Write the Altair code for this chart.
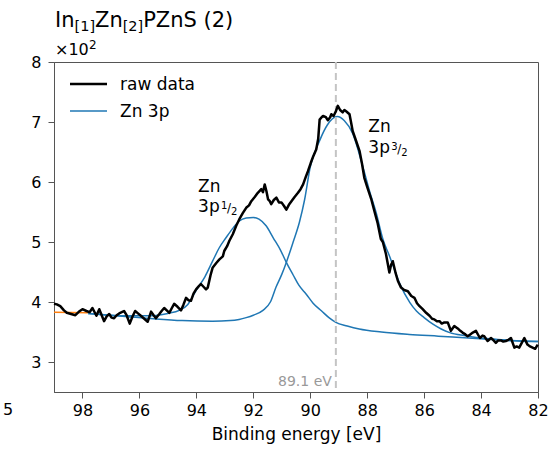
import altair as alt
import pandas as pd

# ---------------- data ----------------
raw_energy = [99.00, 98.90, 98.78, 98.65, 98.55, 98.40, 98.25, 98.12, 98.00, 97.86,
              97.75, 97.65, 97.51, 97.41, 97.24, 97.15, 97.06, 96.98, 96.89, 96.80,
              96.71, 96.62, 96.54, 96.45, 96.34, 96.25, 96.15, 96.05, 95.95, 95.83,
              95.71, 95.59, 95.50, 95.42, 95.30, 95.22, 95.13, 95.04, 94.95, 94.86,
              94.78, 94.66, 94.54, 94.45, 94.36, 94.28, 94.19, 94.10, 94.01, 93.92,
              93.84, 93.74, 93.66, 93.60, 93.50, 93.43, 93.30, 93.19, 93.07, 93.02,
              92.92, 92.84, 92.72, 92.60, 92.49, 92.37, 92.25, 92.15, 92.07, 91.95,
              91.84, 91.72, 91.66, 91.60, 91.54, 91.48, 91.42, 91.37, 91.28, 91.19,
              91.10, 91.01, 90.92, 90.84, 90.75, 90.66, 90.55, 90.43, 90.34, 90.25,
              90.16, 90.08, 89.98, 89.90, 89.79, 89.72, 89.67, 89.60, 89.55, 89.45,
              89.38, 89.30, 89.26, 89.18, 89.10, 89.03, 88.95, 88.86, 88.80, 88.74,
              88.62, 88.56, 88.51, 88.40, 88.27, 88.18, 88.10, 88.00, 87.86, 87.75,
              87.63, 87.52, 87.45, 87.34, 87.22, 87.16, 87.10, 87.00, 86.92, 86.81,
              86.70, 86.57, 86.45, 86.34, 86.25, 86.16, 86.05, 85.93, 85.81, 85.72,
              85.64, 85.55, 85.46, 85.38, 85.29, 85.17, 85.06, 84.94, 84.82, 84.73,
              84.65, 84.55, 84.47, 84.38, 84.29, 84.18, 84.10, 84.04, 83.95, 83.89,
              83.77, 83.65, 83.56, 83.48, 83.40, 83.30, 83.22, 83.13, 83.04, 82.95,
              82.83, 82.75, 82.66, 82.57, 82.48, 82.42, 82.37, 82.28, 82.19, 82.10,
              82.01]
raw_counts = [397, 396, 393, 386, 382, 380, 378, 384, 388, 385,
              383, 390, 377, 388, 368, 376, 380, 374, 373, 378,
              381, 383, 385, 378, 364, 375, 385, 381, 377, 372,
              367, 384, 378, 373, 380, 385, 390, 386, 382, 390,
              397, 392, 386, 396, 407, 403, 402, 414, 421, 426,
              430, 425, 421, 424, 445, 457, 465, 471, 476, 485,
              493, 502, 513, 527, 538, 548, 557, 561, 568, 575,
              582, 588, 583, 596, 585, 571, 568, 563, 570, 574,
              566, 566, 560, 554, 562, 568, 575, 582, 588, 596,
              608, 618, 632, 642, 654, 672, 704, 708, 710, 708,
              703, 708, 713, 710, 718, 727, 720, 716, 720, 718,
              713, 698, 685, 670, 652, 630, 607, 592, 572, 552,
              531, 505, 500, 480, 449, 462, 468, 448, 435, 424,
              420, 418, 410, 407, 398, 393, 388, 382, 377, 372,
              371, 368, 368, 364, 366, 366, 352, 360, 356, 352,
              349, 346, 343, 346, 349, 352, 345, 340, 344, 343,
              335, 340, 336, 332, 336, 336, 334, 335, 337, 340,
              324, 326, 324, 332, 340, 334, 329, 326, 324, 322,
              329]

# Zn 3p1/2 component (peak near 92.0 eV, incl. background)
fit1_energy = [97.8, 96.5, 95.6, 95.0, 94.6, 94.3, 94.0, 93.7, 93.43, 93.2,
               92.96, 92.7, 92.49, 92.25, 92.0, 91.8, 91.55, 91.3, 91.05, 90.84,
               90.6, 90.4, 90.14, 89.9, 89.6, 89.32, 89.1, 88.7, 88.28, 87.5,
               86.52, 85.5, 84.17, 83.0, 82.0]
fit1_counts = [381, 377, 377, 381, 386, 396, 420, 442, 468, 490,
               507, 524, 535, 540, 541, 538, 527, 507, 487, 466,
               445, 428, 413, 398, 385, 373, 366, 360, 355, 350,
               346, 343, 339, 336, 334]

# Zn 3p3/2 component (peak near 89.1 eV, incl. background)
fit2_energy = [97.8, 96.5, 95.5, 94.5, 93.43, 92.8, 92.5, 92.25, 92.0, 91.66,
               91.4, 91.2, 91.0, 90.84, 90.6, 90.38, 90.2, 90.0, 89.67, 89.4,
               89.05, 88.8, 88.51, 88.15, 87.9, 87.68, 87.45, 87.21, 86.86, 86.5,
               86.27, 86.0, 85.69, 85.4, 85.1, 84.6, 84.17, 83.5, 83.0, 82.0]
fit2_counts = [381, 376, 372, 369, 368, 369, 371, 374, 378, 386,
               400, 425, 446, 466, 500, 533, 570, 625, 669, 695,
               709, 702, 681, 625, 582, 548, 505, 476, 431, 399,
               385, 374, 363, 355, 349, 344, 341, 338, 336, 334]

# background outside the fitted range
bg_energy = [99.0, 97.8]
bg_counts = [383, 382]

peak_energy = [89.1]
peak_label = ["89.1 eV"]

x_ticks = [98, 96, 94, 92, 90, 88, 86, 84, 82]
y_ticks = [300, 400, 500, 600, 700, 800]

legend_labels = ["raw data", "Zn 3p"]

ann_energy = [93.94, 87.96]
ann_zn_counts = [583, 684]
ann_3p_counts = [550, 648]
ann_num = ["1", "3"]

FONT = "DejaVu Sans"
BLUE = "#1f77b4"
ORANGE = "#ff7f0e"
SPINE = "#555555"

# ---------------- scales / encodings ----------------
xscale = alt.Scale(domain=[99, 82], nice=False, zero=False)
yscale = alt.Scale(domain=[250, 800], nice=False, zero=False)

x_axis = alt.Axis(values=x_ticks, format="d", title="Binding energy [eV]",
                  titleFontWeight="normal", titleFontSize=17, titleFont=FONT,
                  titlePadding=8, labelFontSize=16, labelPadding=4, tickSize=6,
                  grid=False, labelFlush=False)
y_axis = alt.Axis(values=y_ticks, labelExpr="datum.value / 100", title=None,
                  labelFontSize=16, labelPadding=7, tickSize=6, grid=False)


def X(field="E"):
    return alt.X(f"{field}:Q", scale=xscale, axis=x_axis)


def Y(field="counts"):
    return alt.Y(f"{field}:Q", scale=yscale, axis=y_axis)


raw_df = pd.DataFrame({"E": raw_energy, "counts": raw_counts})
fit1_df = pd.DataFrame({"E": fit1_energy, "counts": fit1_counts})
fit2_df = pd.DataFrame({"E": fit2_energy, "counts": fit2_counts})
bg_df = pd.DataFrame({"E": bg_energy, "counts": bg_counts})
peak_df = pd.DataFrame({"E": peak_energy, "label": peak_label})
ann_df = pd.DataFrame({"E": ann_energy, "zn": ann_zn_counts, "p": ann_3p_counts,
                       "num": ann_num, "slash": ["/", "/"], "den": ["2", "2"],
                       "t1": ["Zn", "Zn"], "t2": ["3p", "3p"]})

bg = alt.Chart(bg_df).mark_line(color=ORANGE, strokeWidth=1.5).encode(x=X(), y=Y())
fit1 = alt.Chart(fit1_df).mark_line(color=BLUE, strokeWidth=1.5, interpolate="monotone").encode(x=X(), y=Y())
fit2 = alt.Chart(fit2_df).mark_line(color=BLUE, strokeWidth=1.5, interpolate="monotone").encode(x=X(), y=Y())

vline = alt.Chart(peak_df).mark_rule(color="#c4c4c4", strokeWidth=2, strokeDash=[7, 4]).encode(
    x=X(), y=alt.value(0), y2=alt.value(330))
vlabel = alt.Chart(peak_df).mark_text(align="right", baseline="alphabetic", dx=-4, font=FONT,
                                      fontSize=14, color="#999999").encode(
    x=X(), y=alt.value(324), text="label:N")

raw = alt.Chart(raw_df).mark_line(color="black", strokeWidth=2.5, strokeJoin="round").encode(x=X(), y=Y())


def ann(field_y, field_t, size, dx=0, dy=0):
    return alt.Chart(ann_df).mark_text(align="left", baseline="alphabetic", font=FONT,
                                       fontSize=size, dx=dx, dy=dy, color="black").encode(
        x=X(), y=Y(field_y), text=f"{field_t}:N")


annotations = [
    ann("zn", "t1", 17),
    ann("p", "t2", 17),
    ann("p", "num", 10, dx=23, dy=-3),
    ann("p", "slash", 12, dx=29, dy=0),
    ann("p", "den", 10, dx=33, dy=3),
]

# legend (drawn inside the plot, top-left, like matplotlib)
one = pd.DataFrame({"t": [legend_labels[0]]})
two = pd.DataFrame({"t": [legend_labels[1]]})
leg1_line = alt.Chart(one).mark_rule(color="black", strokeWidth=2.5).encode(
    x=alt.value(16), x2=alt.value(53), y=alt.value(22))
leg1_text = alt.Chart(one).mark_text(align="left", baseline="middle", font=FONT, fontSize=17,
                                     color="black").encode(x=alt.value(66), y=alt.value(23), text="t:N")
leg2_line = alt.Chart(two).mark_rule(color=BLUE, strokeWidth=1.5).encode(
    x=alt.value(16), x2=alt.value(53), y=alt.value(49))
leg2_text = alt.Chart(two).mark_text(align="left", baseline="middle", font=FONT, fontSize=17,
                                     color="black").encode(x=alt.value(66), y=alt.value(50), text="t:N")


# title with bracketed subscripts, and the ×10² offset text
def txt(s, x, y, size, baseline="alphabetic", color="black", align="left"):
    return alt.Chart(pd.DataFrame({"t": [s]})).mark_text(
        align=align, baseline=baseline, font=FONT, fontSize=size, color=color).encode(
        x=alt.value(x), y=alt.value(y), text="t:N")


title_parts = [
    txt("In", 1, -35, 21),
    txt("[1]", 20.5, -31, 14.5),
    txt("Zn", 41, -35, 21),
    txt("[2]", 68.7, -31, 14.5),
    txt("PZnS (2)", 89.2, -35, 21),
    txt("\u00d710", 1, -7, 16),
    txt("2", 35, -13, 12),
    txt("5", -46, 340, 16, baseline="top", align="center"),
]

chart = alt.layer(
    bg, fit1, fit2, vline, vlabel, raw, *annotations,
    leg1_line, leg1_text, leg2_line, leg2_text, *title_parts
).properties(
    width=484, height=330,
    padding={"left": 54, "top": 62, "right": 14, "bottom": 58},
    autosize=alt.AutoSizeParams(type="none"),
).configure_view(
    stroke=SPINE, strokeWidth=1
).configure_axis(
    labelFont=FONT, titleFont=FONT, labelColor="black", titleColor="black",
    domainColor=SPINE, tickColor=SPINE, domainWidth=1, tickWidth=1
)

chart.save("out.html", embed_options={"renderer": "svg", "actions": False})
